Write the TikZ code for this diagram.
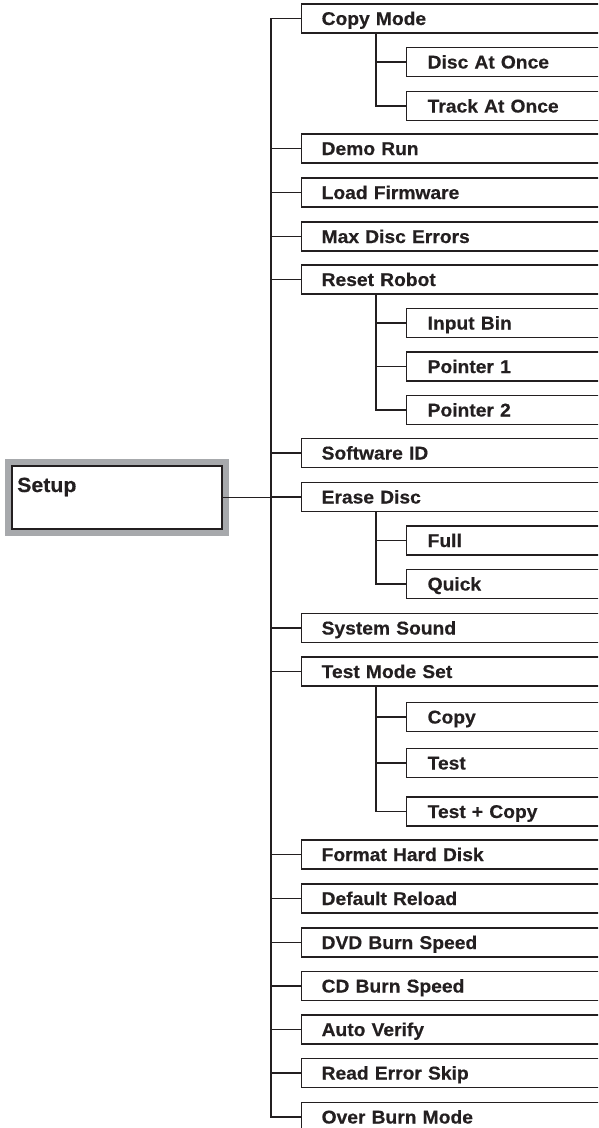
\documentclass[tikz,border=0pt]{standalone}
\usepackage{fontspec}
\setmainfont{Liberation Sans}[FakeStretch=1.04,FakeBold=0.4]
\definecolor{ink}{HTML}{231F20}
\definecolor{framegray}{HTML}{A7A9AC}
\begin{document}
\begin{tikzpicture}[x=1pt,y=-1pt,
  mainbox/.style={draw=ink, line width=1.3pt, anchor=west, minimum height=29pt,
    text width=280pt, inner xsep=20pt, inner ysep=0pt, align=left,
    text height=13pt, text depth=0pt, text=ink,
    font=\fontsize{18.5}{20}\selectfont\bfseries},
  subbox/.style={mainbox, text width=180pt, inner xsep=21pt},
  link/.style={draw=ink, line width=1.3pt}]
\useasboundingbox (0,0) rectangle (598,1128);
\clip (0,0) rectangle (598,1128);
\fill[white] (0,0) rectangle (598,1128);

% root
\node[draw=ink, line width=1.7pt, fill=white, minimum width=210pt, minimum height=63pt,
  inner sep=0pt, preaction={draw=framegray, line width=14pt}] (setup) at (117,497.5) {};
\node[anchor=base west, inner sep=0pt, text=ink, font=\fontsize{20.5}{22}\selectfont\bfseries]
  (setuplabel) at (17,492) {Setup};

\coordinate (T) at (271,0);
\coordinate (S) at (376,0);

% main items
\node[mainbox] (copymode) at (301,18.5) {Copy Mode};
\node[subbox] (dao) at (406,62) {Disc At Once};
\node[subbox] (tao) at (406,106) {Track At Once};
\node[mainbox] (demo) at (301,148.5) {Demo Run};
\node[mainbox] (firmware) at (301,192.5) {Load Firmware};
\node[mainbox] (maxerr) at (301,236.5) {Max Disc Errors};
\node[mainbox] (reset) at (301,279.5) {Reset Robot};
\node[subbox] (inbin) at (406,323) {Input Bin};
\node[subbox] (ptr1) at (406,366.5) {Pointer 1};
\node[subbox] (ptr2) at (406,410) {Pointer 2};
\node[mainbox] (swid) at (301,453) {Software ID};
\node[mainbox] (erase) at (301,497) {Erase Disc};
\node[subbox] (full) at (406,540.5) {Full};
\node[subbox] (quick) at (406,584) {Quick};
\node[mainbox] (sound) at (301,628) {System Sound};
\node[mainbox] (testmode) at (301,671.5) {Test Mode Set};
\node[subbox] (tmcopy) at (406,717) {Copy};
\node[subbox] (tmtest) at (406,763) {Test};
\node[subbox] (tmboth) at (406,811.5) {Test + Copy};
\node[mainbox] (format) at (301,854.5) {Format Hard Disk};
\node[mainbox] (reload) at (301,898.5) {Default Reload};
\node[mainbox] (dvd) at (301,942.5) {DVD Burn Speed};
\node[mainbox] (cd) at (301,986) {CD Burn Speed};
\node[mainbox] (verify) at (301,1029.5) {Auto Verify};
\node[mainbox] (skip) at (301,1073) {Read Error Skip};
\node[mainbox] (overburn) at (301,1117) {Over Burn Mode};

% root connector
\draw[link] (setup.east) -- (setup.east -| T);

% trunk
\draw[link] (copymode.west) -- (copymode.west -| T) -- (overburn.west -| T) -- (overburn.west);
\foreach \n in {demo,firmware,maxerr,reset,swid,erase,sound,testmode,format,reload,dvd,cd,verify,skip}
  \draw[link] (\n.west -| T) -- (\n.west);

% sub branches
\draw[link] (copymode.south -| S) -- (tao.west -| S) -- (tao.west);
\draw[link] (dao.west -| S) -- (dao.west);

\draw[link] (reset.south -| S) -- (ptr2.west -| S) -- (ptr2.west);
\draw[link] (inbin.west -| S) -- (inbin.west);
\draw[link] (ptr1.west -| S) -- (ptr1.west);

\draw[link] (erase.south -| S) -- (quick.west -| S) -- (quick.west);
\draw[link] (full.west -| S) -- (full.west);

\draw[link] (testmode.south -| S) -- (tmboth.west -| S) -- (tmboth.west);
\draw[link] (tmcopy.west -| S) -- (tmcopy.west);
\draw[link] (tmtest.west -| S) -- (tmtest.west);
\end{tikzpicture}
\end{document}
